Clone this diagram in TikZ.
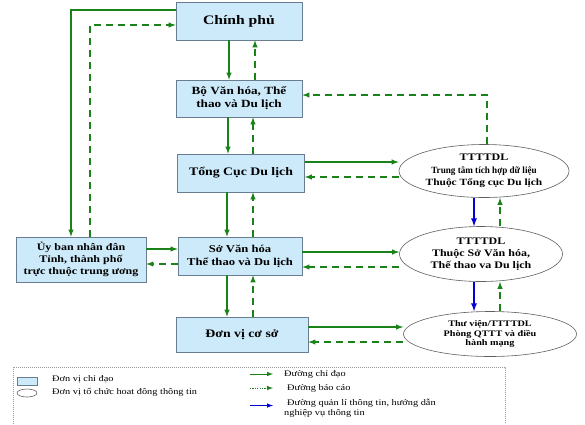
\documentclass[tikz,border=0pt]{standalone}
\usepackage{fontspec}
\setmainfont{Liberation Serif}[FakeStretch=1.2]
\usepackage{graphicx}
\usepackage{tikz}
\usetikzlibrary{positioning, shapes.geometric}

\definecolor{boxblue}{RGB}{205,234,250}
\definecolor{boxedge}{RGB}{105,125,145}
\definecolor{leadgreen}{RGB}{25,130,25}
\definecolor{infoblue}{RGB}{0,0,215}
\definecolor{ellipseedge}{RGB}{95,95,95}

\tikzset{
    unit/.style={rectangle, draw=boxedge, line width=0.6pt, fill=boxblue, align=center, inner sep=0pt},
    info/.style={ellipse, draw=ellipseedge, line width=0.6pt, fill=white, align=center, inner sep=0pt},
    leadline/.style={draw=leadgreen, line width=1.4pt, -latex},
    reportline/.style={leadline, dash pattern=on 7pt off 5pt},
    mgmtline/.style={draw=infoblue, line width=1.7pt, -latex},
    keytext/.style={anchor=west, inner sep=0pt, font=\fontsize{8.6}{10.5}\selectfont, align=left},
    keyframe/.style={draw=gray!80, line width=0.6pt, dash pattern=on 1pt off 1pt}
}

\begin{document}
\begin{tikzpicture}[x=1pt, y=-1pt]
            \useasboundingbox (0,0) rectangle (585,424);

            % Nodes
            \node[unit, minimum width=126pt, minimum height=38pt, font=\bfseries\fontsize{13}{15}\selectfont] (cp) at (239,21) {Chính phủ};
            \node[unit, minimum width=126pt, minimum height=37pt, font=\bfseries\fontsize{11}{13}\selectfont] (bo) at (239,98.5) {Bộ Văn hóa, Thể\\thao và Du lịch};
            \node[unit, minimum width=127pt, minimum height=38pt, font=\bfseries\fontsize{11.5}{14}\selectfont] (tc) at (241,173) {Tổng Cục Du lịch};
            \node[unit, minimum width=124pt, minimum height=38pt, font=\bfseries\fontsize{10.5}{13}\selectfont] (so) at (240,256) {Sở Văn hóa\\Thể thao và Du lịch};
            \node[unit, minimum width=132pt, minimum height=35pt, font=\bfseries\fontsize{11.5}{14}\selectfont] (dv) at (242,334.5) {Đơn vị cơ sở};
            \node[unit, minimum width=130pt, minimum height=45pt, font=\bfseries\fontsize{10}{12}\selectfont] (ub) at (81,259.5) {Ủy ban nhân đân\\Tỉnh, thành phố\\trực thuộc trung ương};

            \node[info, minimum width=170pt, minimum height=53pt, font=\bfseries\fontsize{9.5}{12.5}\selectfont] (e1) at (484,171) {{\fontsize{10}{12.5}\selectfont TTTTDL}\\\scalebox{0.8}[1]{Trung tâm tích hợp dữ liệu}\\Thuộc Tổng cục Du lịch};
            \node[info, minimum width=163pt, minimum height=55pt, font=\bfseries\fontsize{10}{12}\selectfont] (e2) at (481,254) {TTTTDL\\Thuộc Sở Văn hóa,\\Thế thao va Du lịch};
            \node[info, minimum width=173pt, minimum height=45pt, font=\bfseries\fontsize{8.5}{9.5}\selectfont] (e3) at (490,334) {Thư viện/TTTTDL\\Phòng QTTT và điều\\hành mạng};

            % Edges
            \draw[leadline] ([yshift=11pt]cp.west) -| ([xshift=-10pt]ub.north);
            \draw[reportline] ([xshift=9pt]ub.north) |- ([yshift=-4pt]cp.west);

            \draw[leadline] ([xshift=-10pt]cp.south) -- ([xshift=-10pt]cp.south |- bo.north);
            \draw[reportline] ([xshift=16pt]bo.north) -- ([xshift=16pt]bo.north |- cp.south);
            \draw[leadline] ([xshift=-11pt]bo.south) -- ([xshift=-11pt]bo.south |- tc.north);
            \draw[reportline] ([xshift=14pt]bo.south |- tc.north) -- ([xshift=14pt]bo.south);
            \draw[leadline] ([xshift=-14pt]tc.south) -- ([xshift=-14pt]tc.south |- so.north);
            \draw[reportline] ([xshift=12pt]tc.south |- so.north) -- ([xshift=12pt]tc.south);
            \draw[leadline] ([xshift=-13pt]so.south) -- ([xshift=-13pt]so.south |- dv.north);
            \draw[reportline] ([xshift=13pt]so.south |- dv.north) -- ([xshift=13pt]so.south);

            \draw[leadline] ([yshift=7pt]so.west -| ub.east) -- ([yshift=7pt]so.west);
            \draw[reportline] ([yshift=-8pt]so.west) -- ([yshift=-8pt]so.west -| ub.east);

            \draw[leadline] ([yshift=11pt]tc.east) -- ([yshift=11pt]tc.east -| e1.west);
            \draw[reportline] ([yshift=-4pt]tc.east -| e1.west) -- ([yshift=-4pt]tc.east);
            \draw[reportline] ([xshift=3pt]e1.north) |- ([yshift=3.5pt]bo.east);
            \draw[leadline] ([yshift=4pt]so.east) -- ([yshift=4pt]so.east -| e2.west);
            \draw[reportline] ([yshift=-11pt]so.east -| e2.west) -- ([yshift=-11pt]so.east);
            \draw[leadline] ([yshift=7.5pt]dv.east) -- ([yshift=7.5pt]dv.east -| e3.west);
            \draw[reportline] ([yshift=-7.5pt]dv.east -| e3.west) -- ([yshift=-7.5pt]dv.east);

            \draw[mgmtline] ([xshift=-10pt]e1.south) -- ([xshift=-10pt]e1.south |- e2.north);
            \draw[reportline] ([xshift=19pt]e2.north) -- ([xshift=19pt]e2.north |- e1.south);
            \draw[mgmtline] ([xshift=-7pt]e2.south) -- ([xshift=-7pt]e2.south |- e3.north);
            \draw[reportline] ([xshift=10pt]e3.north) -- ([xshift=10pt]e3.north |- e2.south);

            % Legend
            \draw[keyframe] (13,424) |- (505,367) -- (505,424);
            \node[unit, minimum width=20pt, minimum height=8pt] (kunit) at (27,381) {};
            \node[info, minimum width=20pt, minimum height=8pt] (kinfo) at (27,393) {};
            \node[keytext] (kunittext) at (52,379) {Đơn vị chỉ đạo};
            \node[keytext] (kinfotext) at (52,392) {Đơn vị tổ chức hoat đông thông tin};
            \node[keytext] (klead) at (284,374) {Đường chỉ đạo};
            \node[keytext] (kreport) at (287,388) {Đường báo cáo};
            \node[keytext] (kmgmt) at (284,408) {\hspace{3pt}Đường quản lí thông tin, hướng dẫn\\nghiệp vụ thông tin};
            \draw[leadline, line width=1pt] ([xshift=-34pt]klead.west) -- ([xshift=-11pt]klead.west);
            \draw[leadline, line width=1pt, dash pattern=on 1.2pt off 1.2pt] ([xshift=-37pt]kreport.west) -- ([xshift=-14pt]kreport.west);
            \draw[mgmtline, line width=1pt] ([xshift=-34pt, yshift=2.5pt]kmgmt.west) -- ([xshift=-11pt, yshift=2.5pt]kmgmt.west);

        \end{tikzpicture}
\end{document}
